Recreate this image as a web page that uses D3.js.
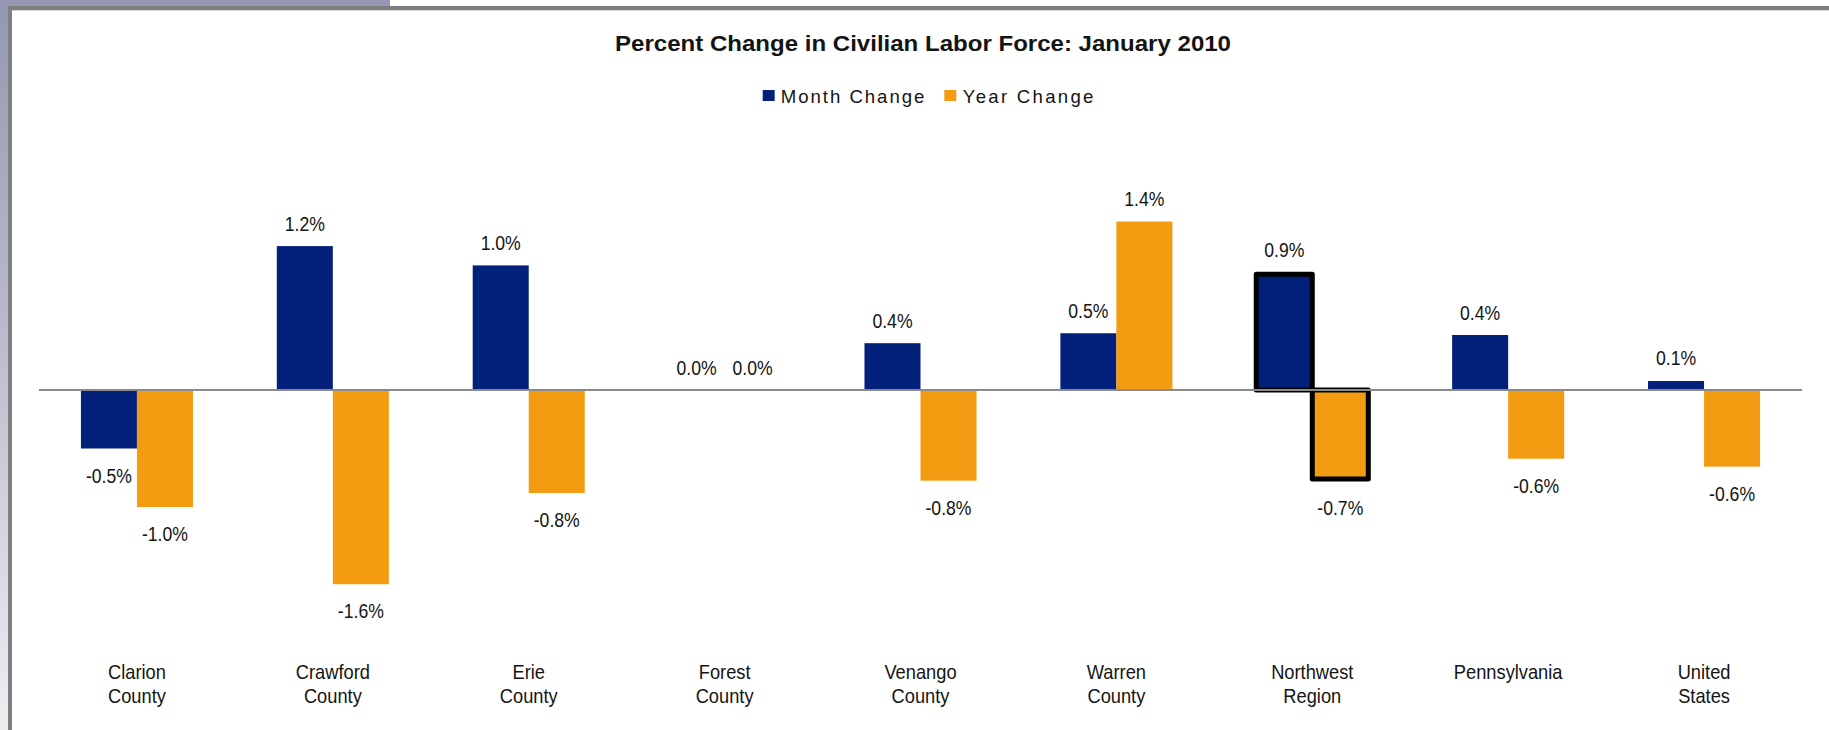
<!DOCTYPE html>
<html>
<head>
<meta charset="utf-8">
<script src="https://cdn.jsdelivr.net/npm/d3@7"></script>
<style>
  html, body { margin: 0; padding: 0; background: #ffffff; }
  svg { display: block; }
  text { font-family: "Liberation Sans", Arial, sans-serif; fill: #141414; }
</style>
</head>
<body>
<svg id="chart" width="1829" height="730"></svg>
<script>
// ---------- data ----------
const categories = ["Clarion\nCounty", "Crawford\nCounty", "Erie\nCounty", "Forest\nCounty",
  "Venango\nCounty", "Warren\nCounty", "Northwest\nRegion", "Pennsylvania", "United\nStates"];
const seriesNames = ["Month Change", "Year Change"];
const monthChange = [-0.50, 1.23, 1.065, 0.0, 0.40, 0.485, 0.99, 0.47, 0.077];
const yearChange  = [-1.00, -1.66, -0.88, 0.0, -0.775, 1.44, -0.76, -0.587, -0.655];
const monthLabels = ["-0.5%", "1.2%", "1.0%", "0.0%", "0.4%", "0.5%", "0.9%", "0.4%", "0.1%"];
const yearLabels  = ["-1.0%", "-1.6%", "-0.8%", "0.0%", "-0.8%", "1.4%", "-0.7%", "-0.6%", "-0.6%"];
const highlighted = ["Northwest\nRegion"];
const titleText = "Percent Change in Civilian Labor Force: January 2010";

// ---------- styling ----------
const colors = { "Month Change": "#03217a", "Year Change": "#f39c12" };
const svg = d3.select("#chart");

// background frame
const defs = svg.append("defs");
const grad = defs.append("linearGradient").attr("id", "sideGrad")
  .attr("x1", 0).attr("y1", 0).attr("x2", 0).attr("y2", 1);
grad.append("stop").attr("offset", "0%").attr("stop-color", "#9497b1");
grad.append("stop").attr("offset", "45%").attr("stop-color", "#b9bbcc");
grad.append("stop").attr("offset", "100%").attr("stop-color", "#eeeef2");
svg.append("rect").attr("x", 0).attr("y", 0).attr("width", 390).attr("height", 8).attr("fill", "#9598b2");
svg.append("rect").attr("x", 0).attr("y", 0).attr("width", 9).attr("height", 730).attr("fill", "url(#sideGrad)");
svg.append("rect").attr("x", 8).attr("y", 6).attr("width", 1821).attr("height", 4).attr("fill", "#7f7f7f");
svg.append("rect").attr("x", 12).attr("y", 10).attr("width", 1817).attr("height", 1).attr("fill", "#d9d9d9");
svg.append("rect").attr("x", 8).attr("y", 6).attr("width", 4).attr("height", 724).attr("fill", "#7f7f7f");

// ---------- scales ----------
const x0 = d3.scaleBand().domain(categories).range([39, 1802])
  .paddingInner(0.428).paddingOuter(0.214);
const x1 = d3.scaleBand().domain(seriesNames).range([0, x0.bandwidth()]);
const y = d3.scaleLinear().domain([-2, 1.5]).range([624, 214.5]);

const rows = [];
categories.forEach((c, i) => {
  rows.push({ cat: c, s: "Month Change", v: monthChange[i], label: monthLabels[i] });
  rows.push({ cat: c, s: "Year Change", v: yearChange[i], label: yearLabels[i] });
});

// ---------- title ----------
svg.append("text").attr("x", 615).attr("y", 51)
  .attr("font-size", 21.5).attr("font-weight", "bold")
  .attr("textLength", 616).attr("lengthAdjust", "spacingAndGlyphs")
  .text(titleText);

// ---------- legend ----------
const legendItems = [
  { name: "Month Change", sx: 762.7, tx: 780.7, w: 143.7 },
  { name: "Year Change", sx: 944.3, tx: 962.7, w: 130.7 }
];
const lg = svg.append("g");
lg.selectAll("rect").data(legendItems).join("rect")
  .attr("x", d => d.sx).attr("y", 90).attr("width", 12).attr("height", 11)
  .attr("fill", d => colors[d.name]);
lg.selectAll("text").data(legendItems).join("text")
  .attr("x", d => d.tx).attr("y", 103.3).attr("font-size", 18.6)
  .attr("textLength", d => d.w).attr("lengthAdjust", "spacing")
  .text(d => d.name);

// ---------- bars ----------
const barsG = svg.append("g");
barsG.selectAll("rect").data(rows).join("rect")
  .attr("x", d => x0(d.cat) + x1(d.s))
  .attr("width", x1.bandwidth())
  .attr("y", d => y(Math.max(0, d.v)))
  .attr("height", d => Math.abs(y(d.v) - y(0)))
  .attr("fill", d => colors[d.s]);

// zero line
svg.append("line").attr("x1", 39).attr("x2", 1802).attr("y1", y(0)).attr("y2", y(0))
  .attr("stroke", "#8a8a8a").attr("stroke-width", 2);

// highlight outline
barsG.append("g").selectAll("rect")
  .data(rows.filter(d => highlighted.includes(d.cat)))
  .join("rect")
  .attr("x", d => x0(d.cat) + x1(d.s))
  .attr("width", x1.bandwidth())
  .attr("y", d => y(Math.max(0, d.v)))
  .attr("height", d => Math.abs(y(d.v) - y(0)))
  .attr("fill", "none").attr("stroke", "#000").attr("stroke-width", 5)
  .attr("stroke-linejoin", "round");

// ---------- data labels ----------
svg.append("g").selectAll("text").data(rows).join("text")
  .attr("text-anchor", "middle").attr("font-size", 20.5)
  .attr("transform", d => {
    const cx = x0(d.cat) + x1(d.s) + x1.bandwidth() / 2;
    const extra = highlighted.includes(d.cat) ? 2 : 0;
    const yy = d.v >= 0 ? y(d.v) - 15.5 - extra : y(d.v) + 34 + extra;
    return `translate(${cx},${yy}) scale(0.86,1)`;
  })
  .text(d => d.label);

// ---------- category labels ----------
const catG = svg.append("g").selectAll("g").data(categories).join("g")
  .attr("transform", d => `translate(${x0(d) + x0.bandwidth() / 2},0)`);
catG.each(function (d) {
  const lines = d.split("\n");
  lines.forEach((ln, j) => {
    d3.select(this).append("text")
      .attr("text-anchor", "middle").attr("font-size", 21)
      .attr("transform", `translate(0,${679.3 + j * 24}) scale(0.87,1)`)
      .text(ln);
  });
});
</script>
</body>
</html>
